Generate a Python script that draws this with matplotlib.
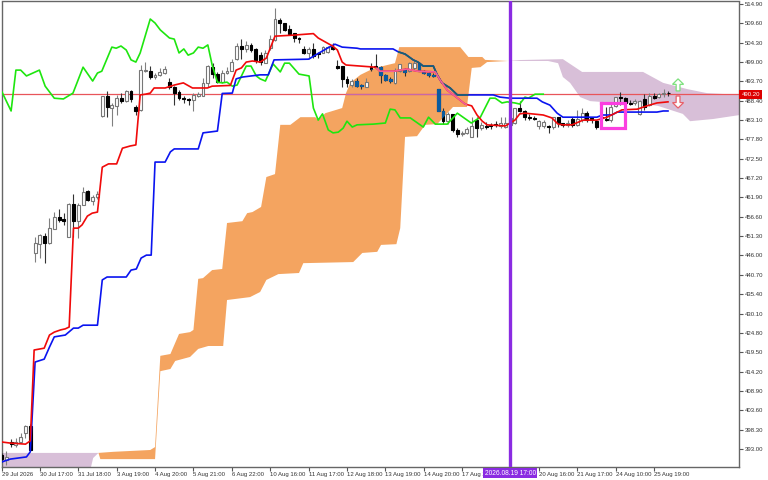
import matplotlib
matplotlib.use("Agg")
import matplotlib.pyplot as plt
import numpy as np

plt.rcParams['font.family'] = ['Liberation Sans', 'DejaVu Sans']

# candles, one value per bar
bar_open = [391.3,390.0,394.8,394.1,394.9,397.4,399.3,446.7,449.1,451.3,449.4,453.3,456.5,456.0,451.1,460.1,455.4,459.8,463.7,460.9,
 462.0,484.2,489.7,486.4,487.0,489.1,488.3,491.1,486.7,485.9,496.5,496.5,494.9,495.5,496.0,493.5,492.2,490.8,489.1,488.9,
 488.6,489.7,489.7,493.3,497.6,495.7,493.5,496.0,496.5,499.8,503.4,502.6,503.7,502.6,500.9,498.7,502.8,505.0,510.5,509.7,
 508.1,507.0,505.6,502.6,501.5,502.6,501.5,501.5,501.8,503.1,497.9,497.9,494.4,492.7,493.8,492.7,492.2,497.6,497.9,497.6,
 495.5,494.4,493.3,496.5,496.8,496.5,497.4,498.7,496.5,496.0,495.5,491.6,485.6,482.8,484.8,480.4,479.3,479.6,478.5,483.1,
 480.9,481.5,481.8,482.0,481.5,481.2,481.8,482.3,486.4,485.6,483.9,483.7,481.5,481.5,481.5,481.2,483.9,482.3,481.8,483.4,
 481.8,483.1,485.0,483.7,482.8,483.9,483.4,483.1,487.0,489.4,489.1,487.8,487.8,484.8,488.9,487.2,489.7,489.4,490.2,490.5]
bar_high = [391.9,392.4,395.7,396.0,397.4,399.6,399.8,451.1,451.9,452.2,456.3,457.9,458.7,457.6,460.4,462.8,460.4,464.8,463.9,462.6,
 463.7,489.7,491.1,487.8,490.0,490.5,491.3,491.3,487.2,498.2,499.0,497.9,496.0,497.4,497.9,494.6,492.4,491.3,489.7,489.1,
 490.5,490.8,494.6,498.2,498.7,496.3,496.8,497.6,499.8,504.2,505.3,504.8,504.2,502.8,501.8,502.3,506.4,513.8,511.1,509.7,
 509.2,507.0,505.9,503.4,503.1,504.2,501.8,503.4,503.4,504.2,499.6,497.9,495.2,494.4,494.6,493.0,494.6,498.7,501.2,497.9,
 495.7,494.9,497.4,498.5,497.4,499.0,499.6,499.0,496.8,496.3,496.0,491.6,486.4,485.3,484.8,480.9,480.1,481.2,483.9,483.9,
 482.6,482.6,482.3,482.8,483.9,483.9,484.5,486.4,488.3,485.9,484.8,484.2,483.1,483.1,481.8,483.9,483.9,482.3,483.1,483.9,
 485.9,486.4,485.6,483.9,483.1,484.5,486.7,487.8,489.4,490.8,489.4,488.6,488.9,488.6,490.2,490.5,490.5,490.5,491.6,491.1]
bar_low = [389.4,388.6,393.5,393.5,394.6,396.0,392.4,444.2,445.3,443.9,449.1,453.3,455.2,454.4,451.1,451.1,450.8,459.8,460.9,459.8,
 461.5,483.9,483.9,481.5,484.5,487.8,488.1,488.1,484.5,485.6,496.3,494.4,494.4,495.2,495.7,491.6,487.2,488.6,487.8,487.2,
 485.6,489.4,489.7,492.2,494.6,493.3,493.3,495.7,496.5,499.6,499.8,501.8,501.8,498.7,498.2,498.7,502.3,504.8,507.0,507.5,
 506.4,504.5,504.2,501.2,499.8,500.1,500.1,501.5,501.5,502.3,497.1,492.2,492.2,492.2,492.2,491.6,492.2,496.5,497.6,493.3,
 493.8,493.3,493.0,496.3,495.2,496.3,496.8,496.5,495.7,494.9,494.9,485.6,482.0,482.0,479.8,478.5,478.7,479.3,478.5,478.5,
 480.4,480.7,480.7,481.2,480.9,480.9,481.5,482.0,485.3,483.1,483.1,483.1,480.7,480.9,479.6,480.7,481.2,481.2,481.2,481.2,
 481.5,482.6,482.6,482.3,480.7,483.1,482.8,482.6,486.7,487.2,487.2,487.2,487.2,484.5,485.9,487.0,488.9,489.1,489.4,489.7]
bar_close = [390.2,390.8,394.3,394.9,396.3,399.3,392.7,449.4,451.6,449.4,453.5,456.5,455.7,455.4,460.1,455.4,459.8,463.4,461.2,462.0,
 462.8,489.7,486.7,487.2,489.1,488.3,491.1,488.9,485.6,496.8,496.8,494.9,495.5,496.3,497.1,492.2,490.5,489.1,488.9,488.6,
 490.0,490.2,493.3,497.9,495.7,493.5,496.0,496.5,499.0,503.4,502.6,503.7,502.3,499.6,499.0,501.5,505.3,510.8,509.7,507.8,
 506.7,505.6,505.3,501.5,502.6,500.7,501.2,503.1,503.1,502.6,497.4,494.4,493.3,493.8,492.4,492.4,493.5,497.1,497.6,495.5,
 494.1,493.8,496.8,498.5,496.3,498.7,498.7,496.5,496.0,495.5,495.2,485.6,482.8,484.8,480.4,479.3,479.6,480.7,481.5,480.9,
 481.8,481.3,481.5,481.8,482.3,482.3,483.7,486.4,485.6,483.9,483.7,483.4,482.8,482.6,481.2,483.9,482.3,481.8,482.3,481.8,
 483.4,485.0,483.1,483.1,481.2,483.7,483.2,486.7,489.4,489.1,487.8,487.6,488.3,488.3,486.7,489.7,489.1,490.2,490.5,490.4]

# ichimoku lines: bar number, price
tenkan_x = [0,1.8,5,6,6.8,8.9,10,11,12.3,13.3,14.1,15,16,16.8,17.9,18.9,20,21,22.3,24,25.2,26.8,28,28.9,30,31,31.8,34.1,36,37.9,39.8,42.9,43.9,47.7,48.9,50,51,52.3,53.9,55.2,56,57,61,64,65,66,67.9,69,70,71,71.8,77.9,78.9,81.8,84.5,86.6,90.4,91.4,92.9,94.5,96.6,98,99.1,100.2,101.2,105,107,108,109.1,112.9,114.7,116,117,118.9,121.2,124.1,126.2,127.9,129.3,132.5,134.5,136.6,138.9]
tenkan_y = [394.9,394.6,394.3,395.2,420.1,420.6,424.2,425.0,425.6,425.9,426.4,453.5,453.5,454.4,456.8,457.6,457.9,470.2,471.1,471.1,475.4,476.0,476.3,490.0,490.2,490.5,491.9,491.9,492.7,493.3,491.9,491.9,492.4,492.6,496.8,497.4,499.0,499.3,499.0,500.1,502.8,506.1,506.4,506.7,506.8,505.6,504.2,503.4,502.3,499.0,498.2,497.6,496.5,496.5,497.1,496.5,496.3,494.1,491.3,489.7,487.5,487.0,484.5,482.8,481.8,481.5,483.1,484.8,485.0,484.5,483.7,482.0,481.8,481.8,483.1,483.1,483.9,485.0,485.9,486.1,487.0,487.8,488.1]
kijun_x = [0,1.8,5.2,6,7,8.9,10,11,13.3,15,16,17,20,21,22,26,27,28.1,29.1,30.2,31.2,32,34.1,35.2,36,41,42,45,46,48.1,48.9,50.2,53.9,55.6,56.8,64,65.4,67.9,69.5,71,74.1,74.8,81.6,82.7,84.1,85.8,86.8,87.9,90,90.8,91.8,93.5,95,102.5,103.9,106,111.6,112.7,114.3,115.8,117,124.1,125.2,127.2,128.3,136.6,137.9,138.9]
kijun_y = [389.4,390.2,390.8,392.2,416.8,417.6,420.9,423.7,424.2,426.1,426.1,426.9,426.9,439.3,440.1,440.1,442.0,442.3,445.3,446.1,446.1,471.6,471.6,474.4,475.2,475.2,479.6,480.1,490.4,490.5,494.4,494.9,495.5,495.5,499.6,499.8,500.9,502.8,503.9,503.1,502.8,502.6,502.6,501.8,501.2,499.6,499.0,497.9,497.9,495.5,493.3,491.9,490.0,490.0,489.4,489.1,489.1,488.1,487.2,485.0,483.9,483.9,484.5,484.5,485.3,485.3,485.6,485.6]
chikou_x = [0.1,2,3,4,5.2,7.9,9.1,11,12.9,14.9,17,19,20,20.9,23,23.9,24.9,26,27,28,28.9,31,32,33.1,35,36,37,38,38.9,40,41,42,43,43.9,45,46,47,48.1,49.1,51,52,53.1,53.9,55,56.6,58.1,59,60,62,64.1,65,66,66.9,68.1,69.1,70.2,71.2,72,73.1,74.1,77.5,80,81,82,83.1,85.2,87.9,89,90.4,92.9,95,97.9,99.8,101.8,102.9,104.3,105.4,107,108,109.1,109.8,111.2,112.9]
chikou_y = [490.8,485.6,496.8,496.8,495.2,496.8,492.4,489.1,488.9,490.5,497.6,493.8,496.0,496.5,503.1,502.8,503.4,502.3,499.6,499.0,501.5,510.8,509.7,507.8,505.6,505.3,501.5,502.6,500.9,501.5,503.1,502.8,503.7,498.2,493.5,493.3,493.5,492.4,492.7,497.9,497.9,495.2,494.4,493.8,498.5,496.3,498.7,498.7,495.7,495.2,486.4,483.1,484.8,480.4,479.6,479.8,480.9,482.8,481.2,481.8,482.0,482.3,486.1,485.9,483.7,483.7,481.2,483.9,482.0,482.0,485.0,482.3,483.9,489.1,489.1,487.8,488.1,487.8,487.5,489.4,489.1,490.2,490.2]

# cloud outlines
orange_top_x = [20.2,23.3,26.4,31,32,33.1,35.2,37,39.3,40,41,42,43.9,46,47,50.2,51.2,52.3,54.1,55.2,57,58.1,60.2,62.3,65.4,66,67.5,71,71.8,72.7,74.8,76.8,77.9,82,82.9,95.6,97.3,100.2,100.8,105.6]
orange_top_y = [391.9,392.2,392.4,392.7,393.5,418.5,419.0,424.5,425.0,425.6,439.6,439.8,442.0,442.3,454.9,455.4,457.6,457.9,459.3,467.5,468.3,481.8,481.8,483.9,483.9,483.1,485.0,486.4,490.5,493.3,495.5,496.8,497.4,498.7,503.1,503.1,500.4,500.4,499.6,499.3]
orange_low_x = [20.2,20.6,32,33.1,35.2,36.2,39.3,41,43.1,46.2,47,51.8,53.9,55.2,57.7,62,62.9,73.3,75.2,78.3,79.1,82.3,83.1,84.1,86.6,88.3,90.8,94.1,97,98,99.8,101.2,105.6]
orange_low_y = [391.9,390.2,390.2,414.3,414.9,417.1,418.2,420.4,421.2,421.2,433.8,434.6,436.0,439.3,440.9,441.2,443.9,444.2,446.7,447.0,448.9,449.1,453.5,478.5,478.7,481.8,482.0,486.7,486.7,497.4,497.6,499.0,499.3]
purple_left_top_x = [0,20.2]
purple_left_top_y = [391.9,391.9]
purple_left_low_x = [0,18.5,19.1,20.2]
purple_left_low_y = [387.2,387.2,390.5,391.9]
purple_top_x = [105.6,117,121,133.7,137.9,142.9,147,153.9]
purple_top_y = [499.5,499.8,496.3,496.3,493.3,491.6,490.5,490.0]
purple_low_x = [105.6,108.1,113.9,116,117,118.5,120.6,122.7,127.9,132.5,136.8,142,143.5,148.3,153.9]
purple_low_y = [499.5,499.3,499.3,498.7,494.9,493.3,489.4,488.3,487.8,487.8,487.0,484.8,482.8,483.4,484.5]

price_ticks = [393.0,398.3,403.6,408.9,414.2,419.5,424.8,430.1,435.4,440.7,446.0,451.3,456.6,461.9,467.2,472.5,477.8,483.1,488.4,493.7,499.0,504.3,509.6,514.9]
time_ticks = list(range(0, 144, 8))
# the label under the cursor box can't be read, left empty
time_labels = ["29 Jul 2026","30 Jul 17:00","31 Jul 18:00","3 Aug 19:00","4 Aug 20:00","5 Aug 21:00","6 Aug 22:00","10 Aug 16:00","11 Aug 17:00",
               "12 Aug 18:00","13 Aug 19:00","14 Aug 20:00","17 Aug 21:00","","20 Aug 16:00","21 Aug 17:00","24 Aug 10:00","25 Aug 19:00"]
last_price = 490.20
cursor_bar = 106
cursor_label = "2026.08.19 17:00"

fig = plt.figure(figsize=(7.68, 4.8), dpi=100)
ax = fig.add_axes([1.5/768, 13/480, 737.5/768, 465.5/480])
ax.set_xlim(0.06, 153.7)
ax.set_ylim(388.04, 515.6)


def cloud(top_x, top_y, low_x, low_y, color):
    xs = np.r_[top_x, low_x[::-1]]
    ys = np.r_[top_y, low_y[::-1]]
    return ax.fill(xs, ys, color=color, lw=0, zorder=1)[0]


orange = cloud(orange_top_x, orange_top_y, orange_low_x, orange_low_y, "#F4A460")
cloud(purple_left_top_x, purple_left_top_y, purple_left_low_x, purple_left_low_y, "#D8BFD8")
cloud(purple_top_x, purple_top_y, purple_low_x, purple_low_y, "#D8BFD8")

ax.axhline(last_price, color="#E8555A", lw=0.9, zorder=2)
ax.axhline(last_price, color="#C868A8", lw=0.9, zorder=2.1).set_clip_path(orange)

# candles
o = np.array(bar_open)
c = np.array(bar_close)
bars = np.arange(len(o))
up = c >= o
ax.vlines(bars[up], np.array(bar_low)[up], np.array(bar_high)[up], color="#808080", lw=0.8, zorder=3)
ax.vlines(bars[~up], np.array(bar_low)[~up], np.array(bar_high)[~up], color="#333333", lw=0.8, zorder=3)
ax.bar(bars[up], (c - o)[up], bottom=o[up], width=0.6, color="white", edgecolor="#777777", lw=0.8, zorder=3.1)
ax.bar(bars[~up], (c - o)[~up], bottom=o[~up], width=0.6, color="black", edgecolor="black", lw=0.8, zorder=3.1)
# black on the orange cloud shows as blue on the terminal
for b in ax.bar(bars[~up], (c - o)[~up], bottom=o[~up], width=0.6, color="#0B5B9F", edgecolor="#0B5B9F", lw=0.8, zorder=3.2):
    b.set_clip_path(orange)

ax.plot(chikou_x, chikou_y, color="#1EE60F", lw=1.2, zorder=4)
ax.plot(kijun_x, kijun_y, color="#0A14F0", lw=1.2, zorder=4.1)
ax.plot(tenkan_x, tenkan_y, color="#F00A0A", lw=1.2, zorder=4.2)
ax.plot(kijun_x, kijun_y, color="#1C6468", lw=1.2, zorder=4.3)[0].set_clip_path(orange)
ax.plot(tenkan_x, tenkan_y, color="#F0609A", lw=1.2, zorder=4.4)[0].set_clip_path(orange)

# cursor line and the drawn objects
ax.axvline(cursor_bar, color="#8A2BE2", lw=2.4, zorder=5)
ax.plot([125, 130, 130, 125, 125], [487.8, 487.8, 480.9, 480.9, 487.8], color="#FB3FE0", lw=2.3, zorder=5, solid_joinstyle="miter")
ax.arrow(141, 491.1, 0, 3.3, width=0.8, head_width=2.3, head_length=1.5, length_includes_head=True, fc="white", ec="#7CE07C", lw=0.9, zorder=5)
ax.arrow(141, 489.7, 0, -3.3, width=0.8, head_width=2.3, head_length=1.5, length_includes_head=True, fc="white", ec="#E8606A", lw=0.9, zorder=5)

ax.yaxis.tick_right()
ax.set_yticks(price_ticks)
ax.set_yticklabels(["%.2f" % p for p in price_ticks], fontsize=4.3, color="#333333")
ax.set_xticks(time_ticks)
ax.set_xticklabels(time_labels, fontsize=4.3, color="#333333", ha="left")
ax.tick_params(axis="y", length=3, width=0.8, color="#555555", pad=1)
ax.tick_params(axis="x", length=3, width=0.8, color="#555555", pad=0.5)
for s in ax.spines.values():
    s.set_color("#666666")
    s.set_linewidth(1.0)

ax.text(1.0035, last_price, "%.2f" % last_price, transform=ax.get_yaxis_transform(), fontsize=4.3, color="white", va="center", ha="left",
        bbox=dict(facecolor="#DD0000", edgecolor="none", pad=1.5), zorder=10, clip_on=False)
ax.text(cursor_bar, -0.013, cursor_label, transform=ax.get_xaxis_transform(), fontsize=4.8, color="white", va="center", ha="center",
        bbox=dict(facecolor="#8A2BE2", edgecolor="none", pad=1.2), zorder=10, clip_on=False)

fig.savefig("out.png", dpi=100)
